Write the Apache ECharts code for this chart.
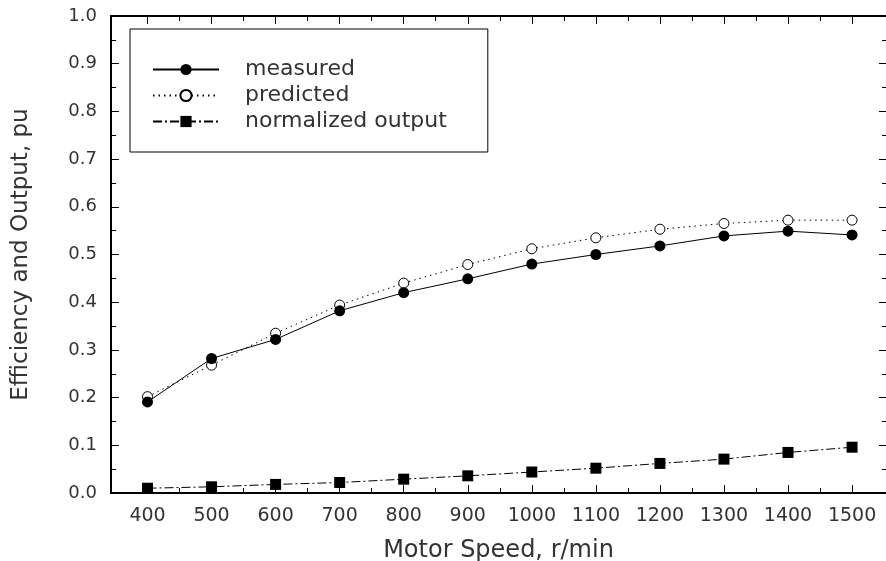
<!DOCTYPE html>
<html>
<head>
<meta charset="utf-8">
<script src="https://cdn.jsdelivr.net/npm/echarts@6/dist/echarts.min.js"></script>
<style>
  html, body { margin: 0; padding: 0; background: #fff; }
  #chart { width: 886px; height: 561px; }
</style>
</head>
<body>
<div id="chart"></div>
<script>
// Motor speed (r/min) and per-unit efficiency / output
const speeds = [400, 500, 600, 700, 800, 900, 1000, 1100, 1200, 1300, 1400, 1500];
const measured = [0.191, 0.282, 0.322, 0.382, 0.420, 0.449, 0.480, 0.500, 0.518, 0.539, 0.549, 0.541];
const predicted = [0.202, 0.268, 0.335, 0.394, 0.440, 0.479, 0.512, 0.535, 0.553, 0.565, 0.572, 0.572];
const normalizedOutput = [0.010, 0.013, 0.018, 0.022, 0.029, 0.036, 0.044, 0.052, 0.062, 0.071, 0.085, 0.096];

// Tick positions
const xTicks = [400, 500, 600, 700, 800, 900, 1000, 1100, 1200, 1300, 1400, 1500];
const xMinorTicks = [450, 550, 650, 750, 850, 950, 1050, 1150, 1250, 1350, 1450];
const yTicks = [0, 0.1, 0.2, 0.3, 0.4, 0.5, 0.6, 0.7, 0.8, 0.9, 1.0];
const yMinorTicks = [0.05, 0.15, 0.25, 0.35, 0.45, 0.55, 0.65, 0.75, 0.85, 0.95];

const FONT = 'DejaVu Sans';
const INK = '#333';

const pairs = ys => speeds.map((s, i) => [s, ys[i]]);

// Builds one x or y axis that only carries ticks (and optionally labels)
function tickAxis(kind, position, values, len, withLine, extra) {
  const base = {
    type: 'value',
    position: position,
    min: kind === 'x' ? 343 : 0,
    max: kind === 'x' ? 1553 : 1,
    splitLine: { show: false },
    axisLine: { show: withLine, onZero: false, lineStyle: { color: '#000', width: 2 } },
    axisTick: { show: true, inside: true, length: len, customValues: values, lineStyle: { color: '#000', width: 1 } },
    axisLabel: { show: false }
  };
  return Object.assign(base, extra || {});
}

const chart = echarts.init(document.getElementById('chart'), null, { renderer: 'canvas' });

chart.setOption({
  animation: false,
  backgroundColor: '#fff',
  grid: { left: 111, right: 0, top: 16, bottom: 68, containLabel: false, outerBoundsMode: 'none' },
  xAxis: [
    tickAxis('x', 'bottom', xTicks, 8, true, {
      axisLabel: {
        show: true, customValues: xTicks, margin: 14, fontFamily: FONT, fontSize: 19, color: INK,
        formatter: v => String(v)
      },
      name: 'Motor Speed, r/min',
      nameLocation: 'middle',
      nameGap: 46,
      nameTextStyle: { fontFamily: FONT, fontSize: 24, color: INK }
    }),
    tickAxis('x', 'bottom', xMinorTicks, 5, false),
    tickAxis('x', 'top', xTicks, 8, true),
    tickAxis('x', 'top', xMinorTicks, 5, false)
  ],
  yAxis: [
    tickAxis('y', 'left', yTicks, 8, true, {
      axisLabel: {
        show: true, customValues: yTicks, margin: 14, fontFamily: FONT, fontSize: 18, color: INK,
        formatter: v => v.toFixed(1)
      },
      name: 'Efficiency and Output, pu',
      nameLocation: 'middle',
      nameGap: 78,
      nameTextStyle: { fontFamily: FONT, fontSize: 23, color: INK }
    }),
    tickAxis('y', 'left', yMinorTicks, 5, false),
    tickAxis('y', 'right', yTicks, 7, false),
    tickAxis('y', 'right', yMinorTicks, 4, false)
  ],
  legend: {
    orient: 'vertical',
    left: 130,
    top: 29,
    padding: [28, 41, 18, 22],
    itemGap: 1,
    itemWidth: 66,
    itemHeight: 14,
    backgroundColor: '#fff',
    borderColor: '#000',
    borderWidth: 1,
    borderRadius: 0,
    textStyle: { fontFamily: FONT, fontSize: 22, color: INK, padding: [0, 0, 0, 21], lineHeight: 25 },
    data: ['measured', 'predicted', 'normalized output']
  },
  series: [
    {
      name: 'measured',
      type: 'line',
      xAxisIndex: 0, yAxisIndex: 0,
      data: pairs(measured),
      z: 4,
      symbol: 'circle',
      symbolSize: 11,
      itemStyle: { color: '#000' },
      lineStyle: { color: '#000', width: 1, type: 'solid' }
    },
    {
      name: 'predicted',
      type: 'line',
      xAxisIndex: 0, yAxisIndex: 0,
      data: pairs(predicted),
      z: 3,
      symbol: 'circle',
      symbolSize: 10,
      itemStyle: { color: '#fff', borderColor: '#000', borderWidth: 1 },
      lineStyle: { color: '#000', width: 1, type: [1.5, 4] }
    },
    {
      name: 'normalized output',
      type: 'line',
      xAxisIndex: 0, yAxisIndex: 0,
      data: pairs(normalizedOutput),
      z: 3,
      symbol: 'rect',
      symbolSize: 11,
      itemStyle: { color: '#000' },
      lineStyle: { color: '#000', width: 1, type: [9, 3, 2, 3] }
    }
  ]
});
</script>
</body>
</html>
